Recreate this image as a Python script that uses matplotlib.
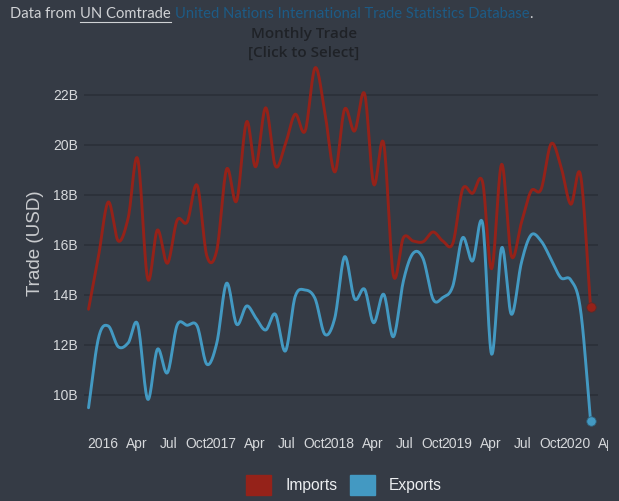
import matplotlib
matplotlib.use("Agg")
import matplotlib.pyplot as plt
import matplotlib.dates as mdates
from matplotlib.patches import Patch
from matplotlib.lines import Line2D
from matplotlib.transforms import Bbox
import numpy as np
import pandas as pd

# Dados mensais (bilhoes USD), Out/2015 a Jan/2020
months = pd.date_range(start="2015-10-01", periods=52, freq="MS")

imports = [13.43, 15.56, 17.72, 16.16, 17.1, 19.45, 14.65, 16.6, 15.27, 16.99, 16.92, 18.39,
           15.56, 15.8, 19.03, 17.76, 20.93, 19.13, 21.49, 19.16, 20.03, 21.23, 20.56, 23.09,
           21.3, 18.92, 21.43, 20.56, 22.05, 18.43, 20.07, 14.79, 16.29, 16.16, 16.13, 16.52,
           16.16, 16.07, 18.23, 18.07, 18.52, 15.05, 19.23, 15.56, 16.89, 18.16, 18.23, 20.05,
           19.16, 17.63, 18.79, 13.53]

exports = [9.49, 12.29, 12.76, 11.93, 12.09, 12.83, 9.83, 11.83, 10.89, 12.79, 12.79, 12.76,
           11.23, 12.09, 14.47, 12.83, 13.56, 13.09, 12.6, 13.23, 11.76, 13.93, 14.2, 13.85,
           12.43, 13.09, 15.53, 13.85, 14.23, 12.89, 14.03, 12.33, 14.56, 15.67, 15.45, 13.83,
           13.9, 14.36, 16.29, 15.36, 16.87, 11.63, 15.89, 13.23, 15.29, 16.4, 16.16, 15.43,
           14.69, 14.6, 13.4, 8.96]

y_ticks = [10, 12, 14, 16, 18, 20, 22]
y_tick_labels = ["10B", "12B", "14B", "16B", "18B", "20B", "22B"]

# Cores
BG = "#353b45"
GRID = "#2a2f37"
RED = "#952219"
BLUE = "#4399c2"
TEXT = "#d6d8db"

W, H = 619, 501


def smooth(xs, ys, n=16):
    # curva suave (catmull-rom) passando pelos pontos
    xs = np.asarray(xs, dtype=float)
    ys = np.asarray(ys, dtype=float)
    m = np.zeros_like(ys)
    m[1:-1] = (ys[2:] - ys[:-2]) / 2
    m[0] = ys[1] - ys[0]
    m[-1] = ys[-1] - ys[-2]
    out_x, out_y = [], []
    for i in range(len(xs) - 1):
        t = np.linspace(0, 1, n, endpoint=False)
        h00 = 2 * t**3 - 3 * t**2 + 1
        h10 = t**3 - 2 * t**2 + t
        h01 = -2 * t**3 + 3 * t**2
        h11 = t**3 - t**2
        out_y.append(h00 * ys[i] + h10 * m[i] + h01 * ys[i + 1] + h11 * m[i + 1])
        out_x.append(xs[i] + t * (xs[i + 1] - xs[i]))
    out_x.append([xs[-1]])
    out_y.append([ys[-1]])
    return np.concatenate(out_x), np.concatenate(out_y)


def main():
    fig = plt.figure(figsize=(W / 100, H / 100), dpi=100, facecolor=BG)
    ax = fig.add_axes([84 / W, 1 - 430 / H, (598 - 84) / W, (430 - 62) / H], facecolor=BG)

    xnum = mdates.date2num(months)
    for serie, cor in [(imports, RED), (exports, BLUE)]:
        sx, sy = smooth(xnum, serie)
        ax.plot(sx, sy, color=cor, lw=2.1, solid_capstyle="round", zorder=3)
        ax.plot(xnum[-1], serie[-1], "o", color=cor, ms=6.8, mec="#5a2a28" if cor == RED else "#2f5f78",
                mew=0.6, zorder=4)

    ax.set_ylim(8.6, 23.32)
    ax.set_xlim(mdates.date2num(pd.Timestamp("2015-09-17")), mdates.date2num(pd.Timestamp("2020-01-24")))
    ax.set_yticks(y_ticks)
    ax.set_yticklabels(y_tick_labels)
    ax.yaxis.grid(True, color=GRID, lw=1.1)
    ax.set_axisbelow(True)
    for s in ax.spines.values():
        s.set_visible(False)

    ticks = pd.date_range(start="2016-01-01", end="2020-01-01", freq="QS")
    ax.set_xticks(mdates.date2num(ticks))
    ax.set_xticklabels([str(d.year) if d.month == 1 else d.strftime("%b") for d in ticks])
    ax.tick_params(axis="both", length=0, colors=TEXT, labelsize=10, labelfontfamily="Liberation Sans")
    ax.tick_params(axis="x", pad=5)
    ax.tick_params(axis="y", pad=4.5)
    for lb in ax.get_xticklabels():
        lb.set_ha("right")
    apr = ax.annotate("Apr", xy=(mdates.date2num(pd.Timestamp("2020-04-01")), 0), xycoords=("data", "axes fraction"),
                      xytext=(0, -5), textcoords="offset points", ha="right", va="top", color=TEXT,
                      fontsize=10, family="Liberation Sans", annotation_clip=False)
    apr.set_clip_on(True)
    apr.set_clip_box(Bbox([[0, 0], [608, H]]))

    fig.text(35 / W, 1 - 243 / H, "Trade (USD)", rotation=90, ha="center", va="center",
             color="#c9cbce", fontsize=13.5, family="Liberation Sans")

    # titulo
    fig.text(304 / W, 1 - 34 / H, "Monthly Trade", ha="center", va="center", color="#1f2227",
             fontsize=11, family="Open Sans", weight="semibold")
    fig.text(304 / W, 1 - 53 / H, "[Click to Select]", ha="center", va="center", color="#1f2227",
             fontsize=11, family="Open Sans", weight="semibold")

    # cabecalho com partes coloridas
    renderer = fig.canvas.get_renderer()
    x = 10
    partes = [("Data from", "#d0d2d5", False, 4), ("UN Comtrade", "#d0d2d5", True, 4),
              ("United Nations International Trade Statistics Database", "#1d5b86", False, 0),
              (".", "#d0d2d5", False, 0)]
    for txt, cor, sub, gap in partes:
        t = fig.text(x / W, 1 - 14 / H, txt, ha="left", va="center", color=cor, fontsize=10.6, family="Lato")
        bb = t.get_window_extent(renderer)
        if sub:
            fig.add_artist(Line2D([bb.x0 / W, bb.x1 / W], [1 - 22 / H, 1 - 22 / H], color=cor, lw=0.8))
        x = bb.x1 + gap

    handles = [Patch(fc=RED, ec=RED), Patch(fc=BLUE, ec=BLUE)]
    fig.legend(handles, ["Imports", "Exports"], loc="center", bbox_to_anchor=(344 / W, 1 - 485 / H), ncol=2,
               frameon=False, prop={"family": "Liberation Sans", "size": 11.25}, labelcolor="#eceef0",
               handlelength=1.6, handleheight=1.6, handletextpad=0.9, columnspacing=0.8)

    fig.savefig("out.png", dpi=100, facecolor=BG)


if __name__ == "__main__":
    main()
